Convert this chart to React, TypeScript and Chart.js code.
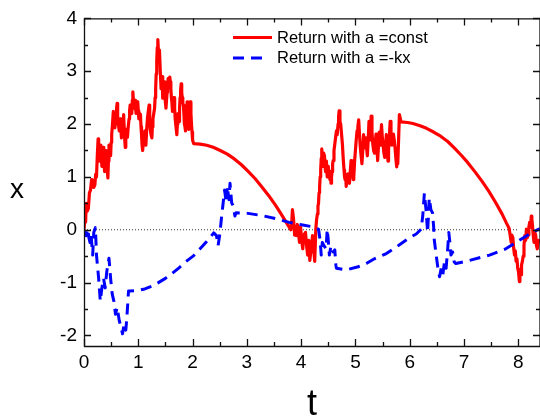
import React, { useEffect, useRef } from "react";
import { Chart, registerables } from "chart.js";
Chart.register(...registerables);

// [t, x] samples
const redPath: [number, number][] = [
  [0, 0], [0.02, 0.25], [0.03, 0.15], [0.04, 0.5], [0.06, 0.35], [0.08, 0.4], [0.1, 0.7], [0.12, 0.75],
  [0.14, 0.95], [0.16, 0.94], [0.18, 0.8], [0.2, 0.85], [0.215, 1.05], [0.23, 1.0], [0.245, 1.4], [0.26, 1.72],
  [0.27, 1.5], [0.28, 1.3], [0.295, 1.6], [0.31, 1.5], [0.32, 1.35], [0.33, 1.2], [0.34, 1.45], [0.35, 1.56],
  [0.365, 1.3], [0.38, 1.1], [0.395, 1.35], [0.41, 1.5], [0.425, 1.2], [0.44, 0.98], [0.45, 1.3], [0.46, 1.6],
  [0.475, 1.5], [0.49, 1.4], [0.5, 1.65], [0.51, 1.8], [0.525, 2.0], [0.54, 2.24], [0.555, 2.05], [0.57, 1.93],
  [0.58, 2.1], [0.59, 2.2], [0.6, 2.3], [0.61, 2.39], [0.62, 2.15], [0.63, 2.0], [0.64, 1.95], [0.65, 1.87],
  [0.66, 2.05], [0.67, 2.1], [0.68, 1.9], [0.69, 1.74], [0.7, 1.85], [0.71, 1.95], [0.72, 2.1], [0.73, 2.18],
  [0.745, 1.8], [0.76, 1.56], [0.77, 1.75], [0.78, 1.9], [0.79, 1.8], [0.8, 1.75], [0.815, 1.95], [0.83, 2.1],
  [0.84, 2.25], [0.85, 2.36], [0.865, 2.25], [0.88, 2.2], [0.89, 2.45], [0.9, 2.61], [0.91, 2.45], [0.92, 2.3],
  [0.93, 2.4], [0.94, 2.45], [0.95, 2.3], [0.96, 2.2], [0.975, 2.35], [0.99, 2.42], [1.0, 2.25], [1.01, 2.1],
  [1.025, 2.2], [1.04, 2.18], [1.05, 1.95], [1.06, 1.8], [1.07, 1.6], [1.08, 1.5], [1.09, 1.62], [1.1, 1.7],
  [1.11, 1.8], [1.12, 1.87], [1.13, 1.7], [1.14, 1.6], [1.155, 1.9], [1.17, 2.12], [1.185, 2.25], [1.2, 2.36],
  [1.21, 2.1], [1.22, 1.9], [1.235, 1.8], [1.25, 1.74], [1.26, 1.95], [1.27, 2.1], [1.285, 2.2], [1.3, 2.3],
  [1.31, 2.5], [1.32, 2.67], [1.33, 2.95], [1.34, 3.2], [1.35, 3.45], [1.36, 3.6], [1.37, 3.4], [1.38, 3.3],
  [1.39, 3.4], [1.405, 3.0], [1.42, 2.67], [1.43, 2.8], [1.44, 2.9], [1.45, 2.49], [1.465, 2.65], [1.48, 2.8],
  [1.49, 2.55], [1.5, 2.4], [1.51, 2.3], [1.52, 2.45], [1.53, 2.6], [1.54, 2.75], [1.55, 2.86], [1.565, 2.7],
  [1.58, 2.89], [1.59, 2.8], [1.6, 2.67], [1.61, 2.5], [1.62, 2.4], [1.63, 2.24], [1.645, 2.4], [1.66, 2.5],
  [1.67, 2.3], [1.68, 2.1], [1.695, 1.95], [1.71, 1.8], [1.72, 2.0], [1.73, 2.2], [1.74, 2.1], [1.75, 2.05],
  [1.76, 2.3], [1.77, 2.5], [1.78, 2.65], [1.79, 2.76], [1.8, 2.6], [1.81, 2.5], [1.82, 2.4], [1.83, 2.36],
  [1.84, 2.2], [1.85, 2.0], [1.86, 1.95], [1.87, 1.87], [1.88, 2.05], [1.89, 2.2], [1.9, 2.42], [1.915, 2.15],
  [1.93, 1.9], [1.945, 2.2], [1.96, 2.42], [1.97, 2.2], [1.98, 2.0], [1.99, 1.85], [2.0, 1.7], [2.02, 1.63],
  [2.14, 1.62], [2.26, 1.6], [2.38, 1.56], [2.51, 1.5], [2.64, 1.43], [2.77, 1.34], [2.9, 1.23], [3.02, 1.11],
  [3.15, 0.97], [3.27, 0.82], [3.4, 0.65], [3.53, 0.46], [3.63, 0.3], [3.72, 0.15], [3.81, 0.0],
  [3.83, 0.2], [3.84, 0.38], [3.86, 0.2], [3.88, -0.1], [3.91, -0.11], [3.93, 0.1], [3.95, -0.05], [3.97, -0.24],
  [3.99, 0.05], [4.01, -0.2], [4.03, -0.36], [4.05, -0.1], [4.08, -0.05], [4.1, -0.3], [4.12, -0.48], [4.14, -0.2],
  [4.16, -0.58], [4.18, -0.4], [4.21, -0.11], [4.25, -0.6], [4.27, 0.01],
  [4.285, 0.2], [4.3, 0.3], [4.31, 0.45], [4.32, 0.5], [4.33, 0.7], [4.34, 0.8], [4.35, 1.0], [4.36, 1.13],
  [4.37, 1.35], [4.38, 1.53], [4.39, 1.3], [4.4, 1.2], [4.405, 1.4], [4.41, 1.25], [4.42, 1.45], [4.43, 1.4],
  [4.44, 1.2], [4.45, 1.1], [4.465, 1.3], [4.48, 1.0], [4.49, 1.15], [4.5, 1.2], [4.515, 1.05], [4.53, 0.95],
  [4.54, 1.1], [4.55, 0.88], [4.56, 1.0], [4.57, 1.1], [4.58, 1.25], [4.59, 1.31], [4.605, 1.5], [4.62, 1.62],
  [4.635, 1.75], [4.65, 1.87], [4.665, 1.8], [4.68, 2.0], [4.69, 2.15], [4.7, 2.25], [4.715, 2.05], [4.73, 1.99],
  [4.745, 1.8], [4.76, 1.62], [4.775, 1.35], [4.79, 1.13], [4.8, 1.0], [4.81, 0.95], [4.82, 1.05], [4.83, 0.82],
  [4.845, 0.95], [4.86, 1.06], [4.875, 0.9], [4.89, 0.88], [4.905, 1.1], [4.92, 1.31], [4.935, 1.15], [4.95, 1.1],
  [4.96, 0.95], [4.97, 1.0], [4.985, 1.3], [5.0, 1.5], [5.015, 1.7], [5.03, 1.87], [5.045, 1.95], [5.06, 2.08],
  [5.075, 1.8], [5.09, 1.56], [5.105, 1.4], [5.12, 1.25], [5.135, 1.5], [5.15, 1.8], [5.16, 1.7], [5.17, 1.6],
  [5.18, 1.55], [5.19, 1.74], [5.205, 1.55], [5.22, 1.4], [5.235, 1.7], [5.25, 2.05], [5.26, 1.85], [5.27, 1.7],
  [5.28, 1.9], [5.29, 2.15], [5.305, 1.85], [5.32, 1.62], [5.335, 1.5], [5.35, 1.45], [5.365, 1.65], [5.38, 1.81],
  [5.395, 1.55], [5.41, 1.31], [5.425, 1.6], [5.44, 1.85], [5.45, 1.7], [5.46, 1.6], [5.47, 1.8], [5.48, 1.99],
  [5.495, 1.75], [5.51, 1.6], [5.525, 1.45], [5.54, 1.37], [5.555, 1.6], [5.57, 1.8], [5.585, 1.5], [5.6, 1.3],
  [5.61, 1.5], [5.62, 1.7], [5.63, 1.85], [5.64, 2.05], [5.655, 1.8], [5.67, 1.6], [5.685, 1.7], [5.7, 1.81],
  [5.715, 1.7], [5.73, 1.55], [5.745, 1.35], [5.76, 1.19], [5.77, 1.3], [5.78, 1.25], [5.795, 1.7], [5.81, 2.18],
  [5.84, 2.04],
  [5.96, 2.03], [6.06, 2.01], [6.19, 1.97], [6.31, 1.92], [6.44, 1.85], [6.57, 1.77], [6.7, 1.67], [6.82, 1.55],
  [6.95, 1.41], [7.07, 1.27], [7.2, 1.1], [7.33, 0.92], [7.45, 0.74], [7.58, 0.52], [7.7, 0.3], [7.78, 0.13],
  [7.83, 0.03],
  [7.85, -0.1], [7.87, -0.24], [7.88, -0.1], [7.9, -0.15], [7.915, -0.35], [7.93, -0.48], [7.945, -0.4], [7.96, -0.6],
  [7.975, -0.55], [7.99, -0.73], [8.005, -0.8], [8.02, -0.98], [8.03, -0.8], [8.04, -0.75], [8.05, -0.85], [8.06, -0.67],
  [8.075, -0.6], [8.09, -0.5], [8.105, -0.3], [8.12, -0.11], [8.135, -0.2], [8.15, 0.01], [8.165, -0.15], [8.18, -0.1],
  [8.195, 0.05], [8.21, 0.14], [8.225, 0.05], [8.24, 0.26], [8.25, 0.2], [8.26, 0.1], [8.275, -0.1], [8.29, -0.24],
  [8.305, -0.05], [8.32, -0.1], [8.335, -0.3], [8.35, -0.36], [8.37, -0.2], [8.4, -0.24],
];

const bluePath: [number, number][] = [
  [0, 0], [0.02, -0.1], [0.04, -0.11], [0.07, 0.02], [0.09, -0.15], [0.11, -0.24], [0.13, -0.1], [0.16, -0.48],
  [0.18, -0.05], [0.21, 0.04], [0.23, -0.48], [0.27, -0.92], [0.3, -1.35], [0.33, -1.1], [0.36, -0.92], [0.39, -1.1],
  [0.42, -0.79], [0.46, -0.54], [0.49, -0.92], [0.52, -1.22], [0.55, -1.35], [0.58, -1.6], [0.61, -1.47], [0.65, -1.72],
  [0.68, -1.84], [0.71, -1.97], [0.74, -1.78], [0.77, -1.9], [0.79, -1.66], [0.82, -1.16], [0.85, -1.16],
  [0.98, -1.15], [1.12, -1.12], [1.25, -1.07], [1.37, -1.0], [1.5, -0.92], [1.63, -0.82], [1.75, -0.72], [1.88, -0.6],
  [2.01, -0.5], [2.13, -0.37], [2.26, -0.22], [2.39, -0.06], [2.44, -0.11],
  [2.47, -0.3], [2.5, -0.1], [2.53, 0.2], [2.57, 0.57], [2.59, 0.75], [2.62, 0.51], [2.64, 0.82], [2.67, 0.57],
  [2.69, 0.88], [2.72, 0.51], [2.75, 0.45], [2.78, 0.26], [2.8, 0.32],
  [3.02, 0.31], [3.27, 0.27], [3.53, 0.21], [3.78, 0.14], [4.03, 0.09], [4.19, 0.06],
  [4.25, 0.04], [4.32, 0.01], [4.35, -0.2], [4.37, -0.48], [4.39, -0.24], [4.42, -0.3], [4.46, -0.36], [4.48, 0.01],
  [4.5, -0.2], [4.52, -0.48], [4.55, -0.3], [4.59, -0.42], [4.62, -0.38], [4.64, -0.67], [4.65, -0.73],
  [4.83, -0.76], [5.05, -0.7], [5.2, -0.64], [5.35, -0.55], [5.57, -0.45], [5.75, -0.33], [5.87, -0.24], [6.0, -0.15],
  [6.12, -0.08], [6.21, 0.01],
  [6.24, 0.26], [6.27, 0.69], [6.3, 0.38], [6.33, -0.05], [6.36, 0.6], [6.39, 0.38], [6.42, 0.32], [6.44, 0.07],
  [6.45, -0.17], [6.48, -0.42], [6.52, -0.73], [6.55, -0.89], [6.58, -0.73], [6.61, -0.85], [6.64, -0.61], [6.67, -0.73],
  [6.7, -0.36], [6.72, -0.05], [6.74, -0.24], [6.76, -0.48], [6.79, -0.42], [6.82, -0.61], [6.85, -0.64],
  [7.1, -0.58], [7.47, -0.48], [7.77, -0.36], [8.02, -0.2], [8.26, -0.05], [8.4, 0.02],
];

const zeroLine: [number, number][] = [[0, 0], [8, 0]];

const xTicks = [0, 1, 2, 3, 4, 5, 6, 7, 8];
const yTicks = [-2, -1, 0, 1, 2, 3, 4];
const xRange = [0, 8.4];
const yRange = [-2.2, 4];
const legendLabels = ["Return with a =const", "Return with a =-kx"];
const xTitle = "t";
const yTitle = "x";

const FONT = "'Liberation Sans', Arial, sans-serif";

const toPts = (p: [number, number][]) => p.map(([t, v]) => ({ x: t, y: v }));

const framePlugin = {
  id: "frameAndLegend",
  afterDraw(chart: any) {
    const { ctx, chartArea, scales } = chart;
    const { left, right, top, bottom } = chartArea;
    const xs = scales.x;
    const ys = scales.y;
    ctx.save();
    ctx.strokeStyle = "#111";
    ctx.lineWidth = 1.3;
    ctx.beginPath();
    ctx.rect(left + 0.5, top + 0.5, right - left - 0.5, bottom - top);
    ctx.stroke();
    const major = 7;
    const minor = 4;
    ctx.beginPath();
    const xVals: [number, number][] = [];
    xTicks.forEach((v) => {
      xVals.push([v, major]);
      if (v + 0.5 <= xRange[1]) xVals.push([v + 0.5, minor]);
    });
    xVals.forEach(([v, len]) => {
      const px = Math.round(xs.getPixelForValue(v)) + 0.5;
      ctx.moveTo(px, bottom);
      ctx.lineTo(px, bottom - len);
      ctx.moveTo(px, top);
      ctx.lineTo(px, top + len);
    });
    const yVals: [number, number][] = [];
    yTicks.forEach((v) => {
      yVals.push([v, major]);
      if (v + 0.5 < yRange[1]) yVals.push([v + 0.5, minor]);
    });
    yVals.forEach(([v, len]) => {
      const py = Math.round(ys.getPixelForValue(v)) + 0.5;
      ctx.moveTo(left, py);
      ctx.lineTo(left + len, py);
      ctx.moveTo(right, py);
      ctx.lineTo(right - len, py);
    });
    ctx.stroke();

    // axis titles
    ctx.fillStyle = "#000";
    ctx.font = `36px ${FONT}`;
    ctx.textAlign = "center";
    ctx.textBaseline = "alphabetic";
    ctx.fillText(xTitle, (left + right) / 2, 415);
    ctx.font = `28px ${FONT}`;
    ctx.fillText(yTitle, 17, 198);

    // legend
    const ds = chart.data.datasets;
    const items = [ds[1], ds[0]];
    const ly = [37.5, 58];
    items.forEach((d: any, i: number) => {
      ctx.save();
      ctx.strokeStyle = d.borderColor;
      ctx.lineWidth = 3;
      ctx.setLineDash(d.borderDash || []);
      ctx.beginPath();
      ctx.moveTo(233, ly[i]);
      ctx.lineTo(i === 0 ? 272 : 266, ly[i]);
      ctx.stroke();
      ctx.restore();
      ctx.fillStyle = "#000";
      ctx.font = `16.5px ${FONT}`;
      ctx.textAlign = "left";
      ctx.textBaseline = "middle";
      ctx.fillText(d.label, 277, ly[i] + 0.5);
    });
    ctx.restore();
  },
};

export default function App() {
  const ref = useRef<HTMLCanvasElement | null>(null);
  useEffect(() => {
    document.body.style.margin = "0";
    const canvas = ref.current;
    if (!canvas) return;
    const chart = new Chart(canvas, {
      type: "line",
      data: {
        datasets: [
          {
            label: legendLabels[1],
            data: toPts(bluePath),
            borderColor: "#0000FF",
            borderWidth: 3,
            borderDash: [11, 7],
            borderJoinStyle: "round",
            pointRadius: 0,
            tension: 0,
            order: 0,
          },
          {
            label: legendLabels[0],
            data: toPts(redPath),
            borderColor: "#FF0000",
            borderWidth: 3.2,
            borderJoinStyle: "round",
            pointRadius: 0,
            tension: 0,
            order: 1,
          },
          {
            label: "zero",
            data: toPts(zeroLine),
            borderColor: "#333",
            borderWidth: 1,
            borderDash: [1, 2],
            pointRadius: 0,
            order: 2,
          },
        ] as any,
      },
      options: {
        animation: false,
        responsive: false,
        devicePixelRatio: 1,
        layout: { padding: { left: 0, top: 12, right: 0, bottom: 0 } },
        plugins: { legend: { display: false }, tooltip: { enabled: false } },
        scales: {
          x: {
            type: "linear",
            min: xRange[0],
            max: xRange[1],
            afterFit: (s: any) => {
              s.height = 72;
            },
            grid: { display: false, drawTicks: false },
            border: { display: false },
            ticks: {
              stepSize: 1,
              includeBounds: false,
              padding: 5,
              color: "#000",
              maxRotation: 0,
              autoSkip: false,
              font: { family: FONT, size: 19 },
              callback: (v: any) => (xTicks.includes(v) ? String(v) : ""),
            },
          },
          y: {
            type: "linear",
            min: yRange[0],
            max: yRange[1],
            afterFit: (s: any) => {
              s.width = 84;
            },
            grid: { display: false, drawTicks: false },
            border: { display: false },
            ticks: {
              stepSize: 1,
              includeBounds: false,
              padding: 7,
              color: "#000",
              font: { family: FONT, size: 19 },
              callback: (v: any) => (yTicks.includes(v) ? String(v) : ""),
            },
          },
        },
      } as any,
      plugins: [framePlugin],
    });
    return () => chart.destroy();
  }, []);
  return (
    <div style={{ width: 540, height: 418 }}>
      <canvas ref={ref} width={540} height={418} style={{ display: "block" }} />
    </div>
  );
}
